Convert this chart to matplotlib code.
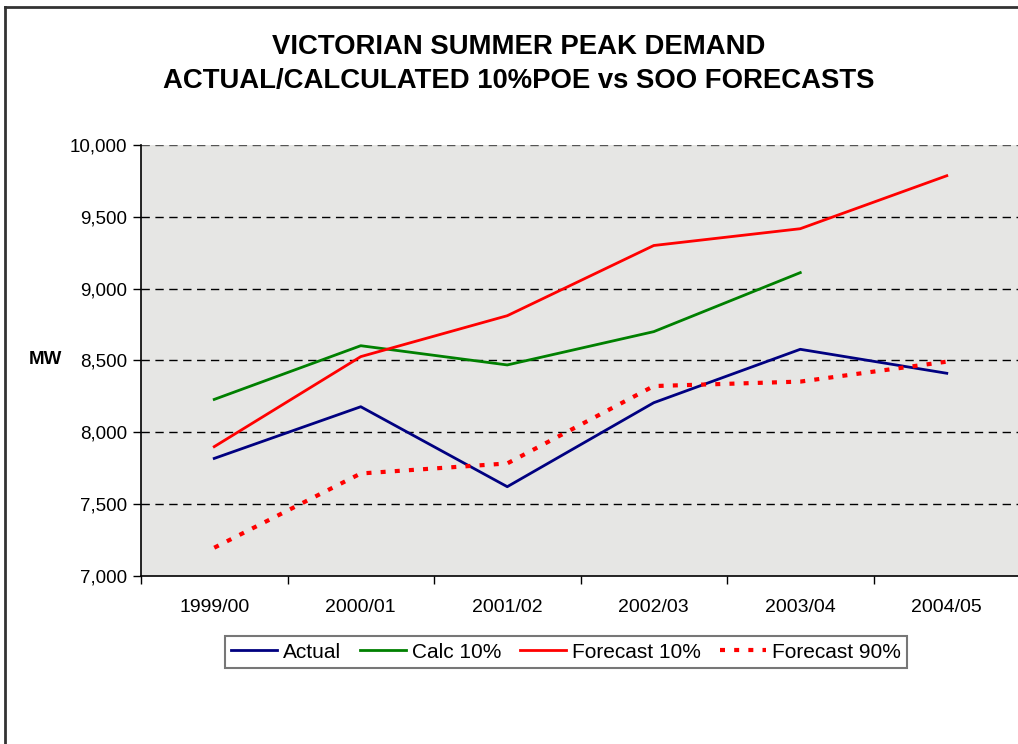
import matplotlib.pyplot as plt
from matplotlib.lines import Line2D
from matplotlib.ticker import FuncFormatter

plt.rcParams['font.family'] = ['Liberation Sans', 'DejaVu Sans']

years = ['1999/00', '2000/01', '2001/02', '2002/03', '2003/04', '2004/05']
actual = [7817, 8177, 7620, 8205, 8577, 8410]
calc_10 = [8228, 8602, 8468, 8700, 9111]
forecast_10 = [7899, 8526, 8811, 9300, 9417, 9786]
forecast_90 = [7195, 7712, 7782, 8321, 8352, 8491]

fig = plt.figure(figsize=(10.18, 7.44), dpi=100)

# outer chart border
fig.add_artist(Line2D([0.0045, 0.0045], [0, 0.9906], color='#333333', lw=2))
fig.add_artist(Line2D([0.0045, 1.0], [0.9906, 0.9906], color='#333333', lw=2))

ax = fig.add_axes([0.1385, 0.2262, 0.8635, 0.5789])
ax.set_facecolor('#e6e6e4')

x = list(range(len(years)))
ax.plot(x, actual, color='#000080', lw=2, label='Actual')
ax.plot(x[:len(calc_10)], calc_10, color='#008000', lw=2, label='Calc 10%')
ax.plot(x, forecast_10, color='#ff0000', lw=2, label='Forecast 10%')
ax.plot(x, forecast_90, color='#ff0000', lw=3, ls=(0, (1.2, 2.2)), label='Forecast 90%')

ax.set_xlim(-0.5, 5.5)
ax.set_ylim(7000, 10000)
ax.set_yticks(range(7000, 10001, 500))
ax.yaxis.set_major_formatter(FuncFormatter(lambda v, p: f'{int(v):,}'))
ax.set_xticks(x)
ax.set_xticklabels(years)
ax.set_xticks([i - 0.5 for i in range(len(years) + 1)], minor=True)
ax.tick_params(axis='x', which='major', length=0, pad=17, labelsize=14)
ax.tick_params(axis='x', which='minor', length=6, width=1)
ax.tick_params(axis='y', length=6, width=1, labelsize=13.5, pad=4)

for v in range(7500, 10001, 500):
    ax.axhline(v, color='#000000' if v < 10000 else '#555555', lw=1, ls=(0, (6, 4)), zorder=1)

for s in ['top', 'right']:
    ax.spines[s].set_visible(False)
ax.spines['left'].set_linewidth(1.2)
ax.spines['bottom'].set_linewidth(1.2)

fig.text(29 / 1018, 1 - 360 / 744, 'MW', fontsize=13.5, fontweight='bold', va='center')

fig.text(519 / 1018, 1 - 47 / 744, 'VICTORIAN SUMMER PEAK DEMAND', fontsize=19.8,
         fontweight='bold', ha='center', va='center')
fig.text(519 / 1018, 1 - 81 / 744, 'ACTUAL/CALCULATED 10%POE vs SOO FORECASTS', fontsize=19.8,
         fontweight='bold', ha='center', va='center')

leg = fig.legend(loc='center', bbox_to_anchor=(566 / 1018, 1 - 652 / 744), ncol=4,
                 fontsize=15, frameon=True, fancybox=False, edgecolor='#555555',
                 handlelength=2.2, handletextpad=0.3, columnspacing=0.9,
                 borderpad=0.3, borderaxespad=0)
leg.get_frame().set_linewidth(1.5)

fig.savefig('out.png', dpi=100)
